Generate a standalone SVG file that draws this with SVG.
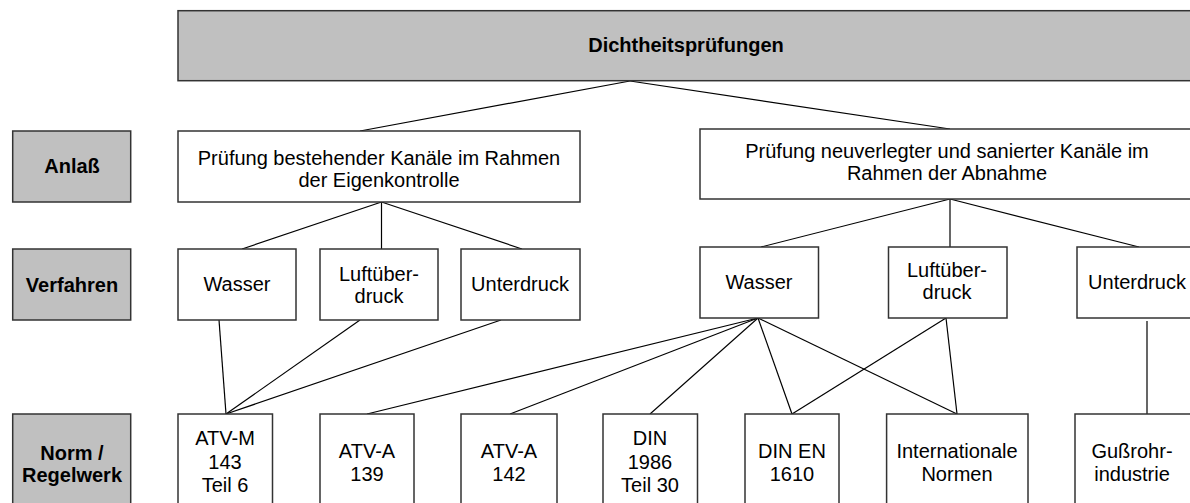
<svg xmlns="http://www.w3.org/2000/svg" width="1190" height="503" viewBox="0 0 1190 503">
<style>
.lbl{fill:#c0c0c0;stroke:#333;stroke-width:1.5}
.box{fill:#fff;stroke:#333;stroke-width:1.5}
.t{font-family:"Liberation Sans",Arial,sans-serif;font-size:20px;fill:#000;text-anchor:middle}
.b{font-weight:bold}
.c line{stroke:#000;stroke-width:1.2}
</style>
<rect width="1190" height="503" fill="#fff"/>
<g id="connectors" class="c">
<line x1="630" y1="81" x2="360" y2="131"/>
<line x1="630" y1="81" x2="950" y2="129"/>
<line x1="381.5" y1="202" x2="242" y2="249"/>
<line x1="381.5" y1="202" x2="381.5" y2="249"/>
<line x1="381.5" y1="202" x2="522" y2="249"/>
<line x1="950" y1="199" x2="761" y2="247"/>
<line x1="950" y1="199" x2="950" y2="247"/>
<line x1="950" y1="199" x2="1139" y2="247"/>
<line x1="219" y1="320" x2="226" y2="414"/>
<line x1="360" y1="320" x2="226" y2="414"/>
<line x1="501" y1="320" x2="226" y2="414"/>
<line x1="758" y1="318" x2="367" y2="414"/>
<line x1="758" y1="318" x2="510" y2="414"/>
<line x1="758" y1="318" x2="650" y2="414"/>
<line x1="758" y1="318" x2="792" y2="414"/>
<line x1="758" y1="318" x2="957" y2="414"/>
<line x1="946" y1="318" x2="792" y2="414"/>
<line x1="946" y1="318" x2="957" y2="414"/>
<line x1="1147" y1="321" x2="1147" y2="415"/>
</g>
<g id="root"><rect class="lbl" x="178" y="10.7" width="1020" height="70"/><text class="t b" x="686" y="52">Dichtheitsprüfungen</text></g>
<g id="lbl-anlass"><rect class="lbl" x="12.7" y="131" width="118" height="71"/><text class="t b" x="72" y="173">Anlaß</text></g>
<g id="lbl-verfahren"><rect class="lbl" x="12.7" y="249" width="118" height="71"/><text class="t b" x="72" y="292">Verfahren</text></g>
<g id="lbl-norm"><rect class="lbl" x="12.7" y="414" width="118" height="100"/><text class="t b" x="72" y="460">Norm /</text><text class="t b" x="72" y="482">Regelwerk</text></g>
<g id="a1"><rect class="box" x="178" y="131" width="402" height="71"/><text class="t" x="379" y="165">Prüfung bestehender Kanäle im Rahmen</text><text class="t" x="379" y="187">der Eigenkontrolle</text></g>
<g id="a2"><rect class="box" x="700" y="129" width="498" height="70"/><text class="t" x="947" y="158">Prüfung neuverlegter und sanierter Kanäle im</text><text class="t" x="947" y="180">Rahmen der Abnahme</text></g>
<g id="v1"><rect class="box" x="178" y="249" width="118" height="71"/><text class="t" x="237" y="291">Wasser</text></g>
<g id="v2"><rect class="box" x="320" y="249" width="118" height="71"/><text class="t" x="379" y="281">Luftüber-</text><text class="t" x="379" y="303">druck</text></g>
<g id="v3"><rect class="box" x="461" y="249" width="119" height="71"/><text class="t" x="520" y="291">Unterdruck</text></g>
<g id="v4"><rect class="box" x="700" y="247" width="118.5" height="71"/><text class="t" x="759" y="289">Wasser</text></g>
<g id="v5"><rect class="box" x="888.5" y="247" width="118.5" height="71"/><text class="t" x="947" y="277">Luftüber-</text><text class="t" x="947" y="299">druck</text></g>
<g id="v6"><rect class="box" x="1077" y="247" width="125" height="71"/><text class="t" x="1137" y="289">Unterdruck</text></g>
<g id="n1"><rect class="box" x="178" y="414" width="94.5" height="100"/><text class="t" x="225" y="445">ATV-M</text><text class="t" x="225" y="469">143</text><text class="t" x="225" y="492">Teil 6</text></g>
<g id="n2"><rect class="box" x="320" y="414" width="94" height="100"/><text class="t" x="367" y="458">ATV-A</text><text class="t" x="367" y="481">139</text></g>
<g id="n3"><rect class="box" x="461" y="414" width="96" height="100"/><text class="t" x="509" y="458">ATV-A</text><text class="t" x="509" y="481">142</text></g>
<g id="n4"><rect class="box" x="603" y="414" width="94.5" height="100"/><text class="t" x="650" y="445">DIN</text><text class="t" x="650" y="469">1986</text><text class="t" x="650" y="492">Teil 30</text></g>
<g id="n5"><rect class="box" x="745" y="414" width="94" height="100"/><text class="t" x="792" y="458">DIN EN</text><text class="t" x="792" y="481">1610</text></g>
<g id="n6"><rect class="box" x="886.6" y="414" width="141.4" height="100"/><text class="t" x="957" y="458">Internationale</text><text class="t" x="957" y="481">Normen</text></g>
<g id="n7"><rect class="box" x="1075" y="414" width="125" height="100"/><text class="t" x="1132" y="458">Gußrohr-</text><text class="t" x="1132" y="481">industrie</text></g>
</svg>
